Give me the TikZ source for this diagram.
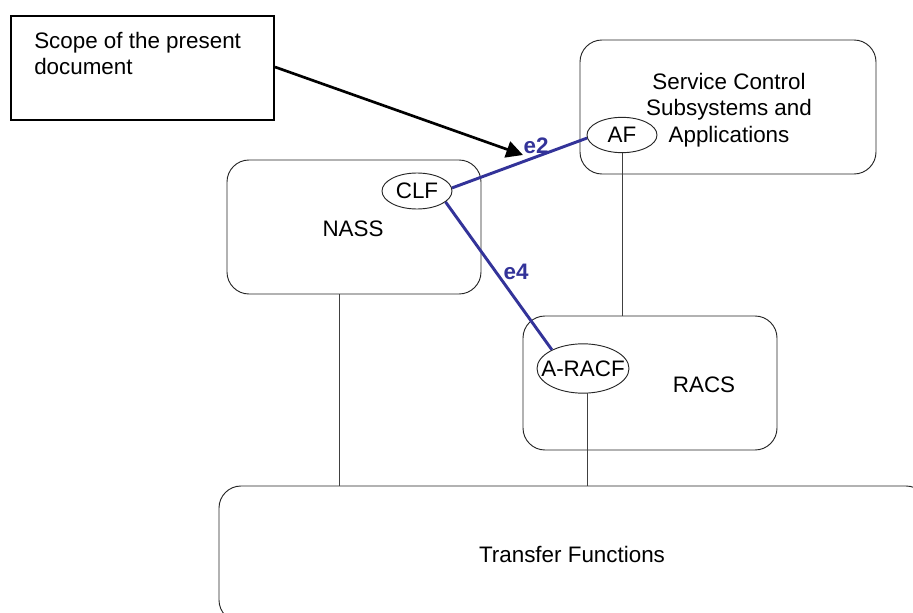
\documentclass[tikz,border=0pt]{standalone}
\usepackage{fontspec}
\setmainfont{Liberation Sans}
\usetikzlibrary{shapes.geometric,arrows.meta}
\definecolor{iface}{RGB}{51,51,153}
\tikzset{
 rbox/.style={draw=black!85,line width=0.7pt,rounded corners=16.5pt,inner sep=0pt},
 oval/.style={draw=black!85,line width=0.7pt,ellipse,fill=white,inner xsep=-7pt,inner ysep=-3pt,font=\fontsize{16.8pt}{19pt}\selectfont},
 lab/.style={font=\fontsize{16.8pt}{19.8pt}\selectfont,align=center,inner sep=0pt},
 link/.style={draw=black!75,line width=0.7pt},
 blink/.style={draw=iface,line width=2.2pt},
 iflab/.style={font=\fontsize{16.8pt}{19pt}\selectfont\bfseries,text=iface,inner sep=0pt}
}
\begin{document}
\begin{tikzpicture}[x=0.75pt,y=-0.75pt]
\useasboundingbox (0,0) rectangle (913,613);
\begin{scope}
\clip (0,0) rectangle (913,613);
% boxes
\node[rbox,minimum width=190.5pt,minimum height=100.5pt] (nass) at (354,227) {};
\node[rbox,minimum width=222pt,minimum height=100.5pt] (svc) at (728,107) {};
\node[rbox,minimum width=190.5pt,minimum height=100.5pt] (racs) at (650,383) {};
\node[rbox,minimum width=531.75pt,minimum height=102pt] (tf) at (573.5,554) {};
\node[draw=black,line width=1.5pt,minimum width=197.25pt,minimum height=78pt,inner sep=0pt] (scope) at (142.5,68) {};
% ovals
\node[oval,minimum width=52.5pt,minimum height=26.5pt] (af) at (622,135) {AF};
\node[oval,minimum width=52.5pt,minimum height=27pt] (clf) at (417,191) {CLF};
\node[oval,minimum width=69pt,minimum height=37pt] (aracf) at (583,368.5) {A-RACF};
% black connectors
\coordinate (nassdrop) at (339,294);
\coordinate (aracfdrop) at (587,393);
\coordinate (e2tip) at (523,155);
\draw[link] (nassdrop) -- (nassdrop |- tf.north);
\draw[link] (af.south) -- (af.south |- racs.north);
\draw[link] (aracfdrop) -- (aracfdrop |- tf.north);
% scope arrow
\draw[line width=2pt,-{Triangle[length=12.5pt,width=12.5pt]}] (scope.east |- 0,67) -- (e2tip);
% blue connectors
\draw[blink] (clf.5) -- (af.185);
\draw[blink] (clf.-21) -- (aracf.149);
% labels
\node[lab,align=left,anchor=north west] (scopetext) at (34,32) {Scope of the present\\document};
\node[lab] (svctext) at (729,110) {Service Control\\Subsystems and\\Applications};
\node[lab] (nasstext) at (353,229) {NASS};
\node[lab] (racstext) at (704,385) {RACS};
\node[lab] (tftext) at (572,554) {Transfer Functions};
\node[iflab] (e2) at (536,146) {e2};
\node[iflab] (e4) at (516,272) {e4};
\end{scope}
\end{tikzpicture}
\end{document}
